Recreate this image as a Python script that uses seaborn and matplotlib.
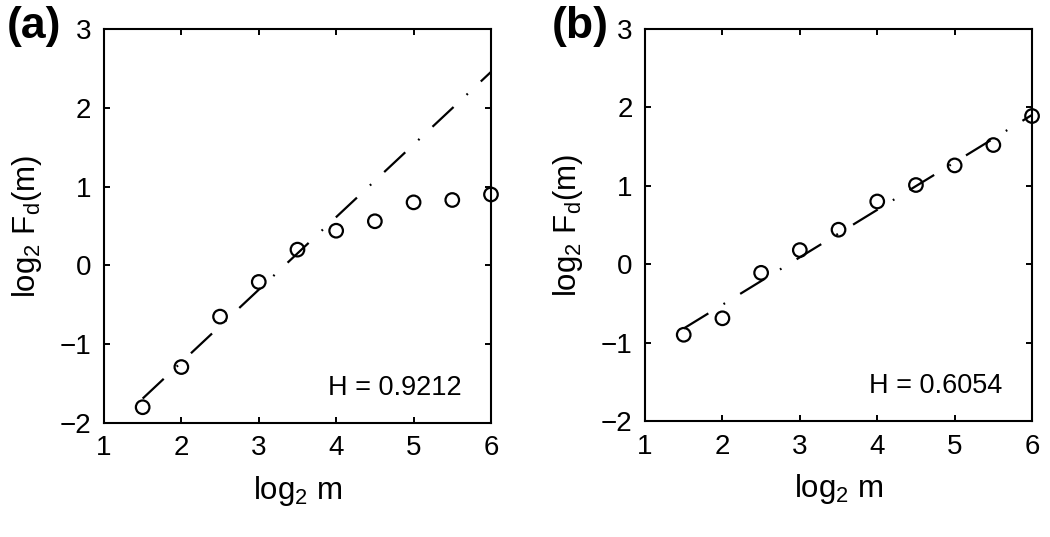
import matplotlib
matplotlib.use("Agg")
import matplotlib.pyplot as plt
import seaborn as sns
import numpy as np

sns.set_style("ticks")
plt.rcParams['font.family'] = ['Liberation Sans', 'DejaVu Sans']
plt.rcParams['mathtext.fontset'] = 'custom'
plt.rcParams['mathtext.rm'] = 'Liberation Sans'
plt.rcParams['mathtext.it'] = 'Liberation Sans:italic'
for key in ['text.color', 'axes.labelcolor', 'xtick.color', 'ytick.color']:
    plt.rcParams[key] = 'black'

# data
log2_m = [1.5, 2.0, 2.5, 3.0, 3.5, 4.0, 4.5, 5.0, 5.5, 6.0]
fd_a = [-1.80, -1.29, -0.65, -0.21, 0.20, 0.44, 0.56, 0.80, 0.83, 0.90]
fd_b = [-0.90, -0.69, -0.11, 0.18, 0.44, 0.80, 1.01, 1.26, 1.52, 1.89]
# fitted lines: slope H and value at log2 m = 1.5
H_a, y0_a = 0.9212, -1.69
H_b, y0_b = 0.6054, -0.82
panels = ["(a)", "(b)"]

fig = plt.figure(figsize=(10.5, 5.37), dpi=100)
ax_a = fig.add_axes([0.099, 0.2123, 0.3686, 0.7337])
ax_b = fig.add_axes([0.6143, 0.2160, 0.3686, 0.7300])


def draw_panel(ax, y, H, y0, label, lx):
    x = np.array(log2_m)
    fit = y0 + H * (x - x[0])
    sns.lineplot(x=x, y=fit, ax=ax, color='black', lw=1.6,
                 dashes=False).lines[0].set_dashes((13, 8, 0.8, 8))
    sns.scatterplot(x=log2_m, y=y, ax=ax, marker='o', s=95,
                    facecolor='none', edgecolor='black', linewidth=1.6,
                    clip_on=False, zorder=3)
    ax.set_xlim(1, 6)
    ax.set_ylim(-2, 3)
    ax.set_xticks([1, 2, 3, 4, 5, 6])
    ax.set_yticks([-2, -1, 0, 1, 2, 3])
    ax.tick_params(direction='in', length=4, width=1.4, top=True, right=True,
                   labelsize=20, pad=9)
    for s in ax.spines.values():
        s.set_visible(True)
        s.set_linewidth(1.5)
        s.set_color('black')
    ax.set_xlabel(r"log$_2$ m", fontsize=22.5, labelpad=9)
    ax.set_ylabel(r"log$_2$ F$_\mathrm{d}$(m)", fontsize=22.5, labelpad=11)
    ax.text(5.62, -1.64, "H = %.4f" % H, fontsize=19.5, ha='right', va='baseline')
    fig.text(lx, 1 - 6 / 537, label, fontsize=32, fontweight='bold',
             ha='left', va='top')


draw_panel(ax_a, fd_a, H_a, y0_a, panels[0], 7 / 1050)
draw_panel(ax_b, fd_b, H_b, y0_b, panels[1], 552 / 1050)

fig.savefig("out.png", dpi=100)
